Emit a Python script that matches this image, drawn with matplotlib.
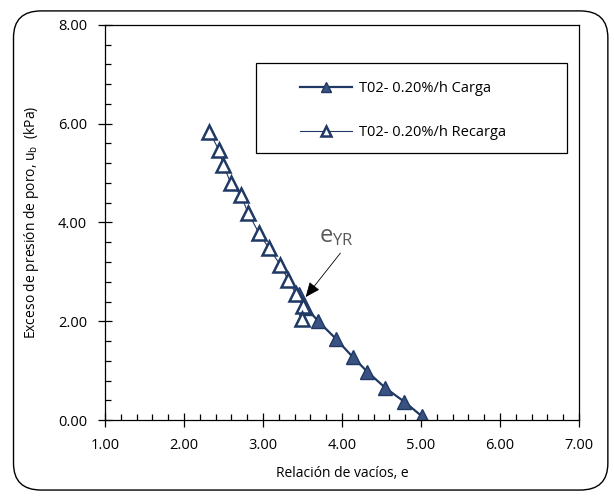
import matplotlib as mpl
import matplotlib.pyplot as plt
from matplotlib.patches import FancyBboxPatch, Rectangle
from matplotlib.ticker import MultipleLocator, FormatStrFormatter

config = {
    "font.family": ['Open Sans', 'DejaVu Sans'],
    "font.size": 10,
    "mathtext.fontset": 'custom',
    "mathtext.rm": 'Open Sans',
    "mathtext.it": 'Open Sans',
}
mpl.rcParams.update(config)

# data
e_carga = [5.01, 4.79, 4.55, 4.32, 4.14, 3.92, 3.70, 3.55, 3.45]
u_carga = [0.08, 0.37, 0.65, 0.98, 1.27, 1.65, 2.00, 2.27, 2.55]

e_recarga = [2.32, 2.44, 2.50, 2.59, 2.72, 2.81, 2.95, 3.07, 3.22, 3.32, 3.42, 3.51, 3.50]
u_recarga = [5.84, 5.47, 5.16, 4.80, 4.55, 4.20, 3.78, 3.49, 3.14, 2.83, 2.55, 2.30, 2.05]

label_carga = "T02- 0.20%/h Carga"
label_recarga = "T02- 0.20%/h Recarga"

navy = '#1f3864'
fill = '#3a5282'

fig = plt.figure(figsize=(6.14, 4.96), dpi=100)
ax = fig.add_axes([0.171, 0.153, 0.772, 0.797])

ax.plot(e_carga, u_carga, '-', color=navy, linewidth=1.6,
        marker='^', markersize=10, markerfacecolor=fill,
        markeredgecolor=navy, markeredgewidth=1.0, label=label_carga)
ax.plot(e_recarga, u_recarga, '-', color=navy, linewidth=0.8,
        marker='^', markersize=10, markerfacecolor='white',
        markeredgecolor=navy, markeredgewidth=1.8, label=label_recarga)

ax.text(3.93, 3.72, "e$_{\\mathrm{YR}}$", fontsize=17, color='#595959',
        ha='center', va='center')
ax.annotate("", xy=(3.54, 2.49), xytext=(3.98, 3.38),
            arrowprops=dict(arrowstyle='-|>,head_length=0.7,head_width=0.3',
                            color='black', lw=0.6,
                            mutation_scale=13, shrinkA=0, shrinkB=0))

ax.set_xlim(1, 7)
ax.set_ylim(0, 8)
ax.xaxis.set_major_locator(MultipleLocator(1))
ax.xaxis.set_minor_locator(MultipleLocator(0.2))
ax.yaxis.set_major_locator(MultipleLocator(2))
ax.yaxis.set_minor_locator(MultipleLocator(0.4))
ax.xaxis.set_major_formatter(FormatStrFormatter('%.2f'))
ax.yaxis.set_major_formatter(FormatStrFormatter('%.2f'))
ax.tick_params(which='major', direction='inout', length=10, width=0.9,
               labelsize=10.5, colors='black')
ax.tick_params(which='minor', direction='in', length=4, width=0.9)
ax.tick_params(axis='x', which='major', pad=8)
ax.tick_params(axis='y', which='major', pad=8)
for s in ax.spines.values():
    s.set_linewidth(0.9)

ax.set_xlabel("Relación de vacíos, e", fontsize=10, labelpad=9)
ax.set_ylabel("Exceso de presión de poro, u$_{\\mathrm{b}}$  (kPa)", fontsize=10, labelpad=12)

# legend frame drawn separately so its padding matches the reference
ax.add_patch(Rectangle((0.3186, 0.676), 0.656, 0.228, transform=ax.transAxes,
                       fill=True, facecolor='white', edgecolor='black',
                       linewidth=0.9, zorder=4))
leg = ax.legend(loc='upper left', bbox_to_anchor=(0.411, 0.858), frameon=False,
                fontsize=10.5, borderpad=0, labelspacing=2.0, handlelength=3.6,
                handletextpad=0.45, borderaxespad=0, markerscale=0.65)
leg.set_zorder(5)

border = FancyBboxPatch((0.022, 0.012), 0.968, 0.966,
                        boxstyle="round,pad=0,rounding_size=0.045",
                        transform=fig.transFigure, fill=False,
                        edgecolor='black', linewidth=1.0, mutation_aspect=1.2)
fig.patches.append(border)

fig.savefig("out.png", dpi=100)
